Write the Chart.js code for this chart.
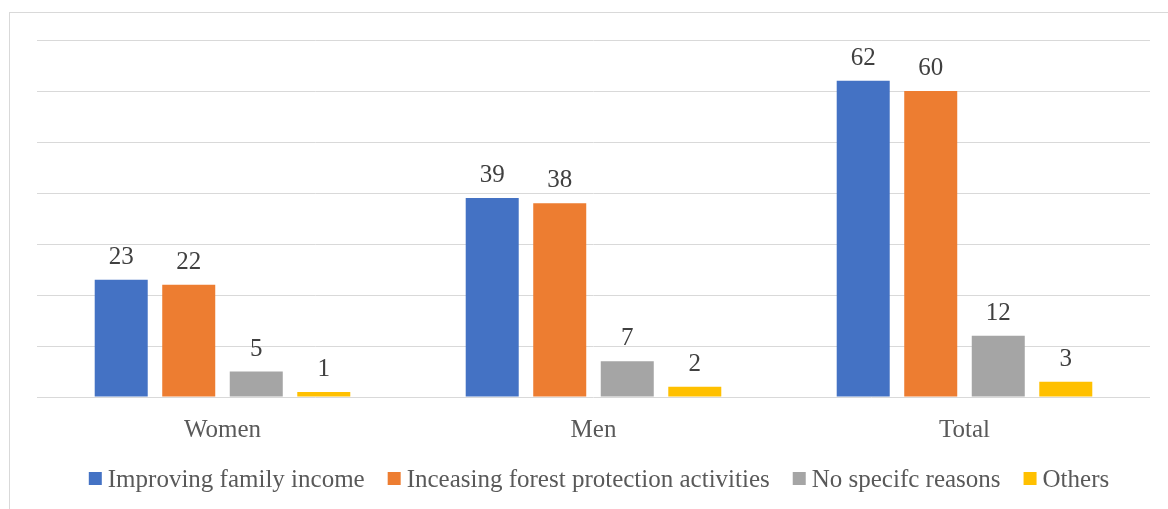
<!DOCTYPE html>
<html>
<head>
<meta charset="utf-8">
<script src="https://cdn.jsdelivr.net/npm/chart.js"></script>
<style>
  html, body { margin: 0; padding: 0; background: #fff; }
  #wrap { position: relative; width: 1168px; height: 509px; }
  #frame { position: absolute; left: 9px; top: 12px; width: 1200px; height: 600px;
           border-left: 1px solid #d9d9d9; border-top: 1px solid #d9d9d9; }
  canvas { position: absolute; left: 0; top: 0; }
</style>
</head>
<body>
<div id="wrap">
  <div id="frame"></div>
  <canvas id="myChart" width="1168" height="509"></canvas>
</div>
<script>
// data
const groups = ["Women", "Men", "Total"];
const familyIncome = [23, 39, 62];
const forestProtection = [22, 38, 60];
const noReasons = [5, 7, 12];
const others = [1, 2, 3];

const seriesNames = ["Improving family income", "Inceasing forest protection activities", "No specifc reasons", "Others"];
const seriesColors = ["#4472C4", "#ED7D31", "#A5A5A5", "#FFC000"];

const serif = "'Liberation Serif', 'Times New Roman', serif";

// value labels above bars
const valueLabels = {
  id: "valueLabels",
  afterDatasetsDraw(chart) {
    const ctx = chart.ctx;
    ctx.save();
    ctx.font = "25px " + serif;
    ctx.fillStyle = "#404040";
    ctx.textAlign = "center";
    ctx.textBaseline = "alphabetic";
    chart.data.datasets.forEach((ds, i) => {
      chart.getDatasetMeta(i).data.forEach((bar, j) => {
        ctx.fillText(ds.data[j], bar.x, bar.y - 16);
      });
    });
    ctx.restore();
  }
};

// legend drawn by hand so the box/text gaps match
const bottomLegend = {
  id: "bottomLegend",
  afterDraw(chart) {
    const ctx = chart.ctx;
    ctx.save();
    ctx.font = "25px " + serif;
    const items = chart.data.datasets.map(ds => ({
      text: ds.label, color: ds.backgroundColor, w: ctx.measureText(ds.label).width
    }));
    const box = 13, gap = 6, between = 23;
    let total = 0;
    items.forEach((it, i) => { total += box + gap + it.w + (i ? between : 0); });
    let x = 599 - total / 2;
    const y = 480;
    ctx.textBaseline = "middle";
    ctx.textAlign = "left";
    items.forEach(it => {
      ctx.fillStyle = it.color;
      ctx.fillRect(x, y - 8, box, box);
      x += box + gap;
      ctx.fillStyle = "#595959";
      ctx.fillText(it.text, x, y);
      x += it.w + between;
    });
    ctx.restore();
  }
};

const allSeries = [familyIncome, forestProtection, noReasons, others];

const data = {
  labels: groups,
  datasets: allSeries.map((vals, i) => ({
    label: seriesNames[i],
    data: vals,
    backgroundColor: seriesColors[i],
    borderWidth: 0,
    categoryPercentage: 0.728,
    barPercentage: 0.785
  }))
};

new Chart(document.getElementById("myChart"), {
  type: "bar",
  data: data,
  plugins: [valueLabels, bottomLegend],
  options: {
    responsive: false,
    animation: false,
    layout: { padding: { left: 37, right: 18, top: 40, bottom: 54 } },
    scales: {
      y: {
        min: 0, max: 70,
        ticks: { display: false, stepSize: 10 },
        border: { display: false },
        grid: { color: "#d9d9d9", lineWidth: 1, drawTicks: false }
      },
      x: {
        grid: { display: false },
        border: { display: false },
        ticks: { color: "#595959", font: { family: serif, size: 25 }, padding: 10 }
      }
    },
    plugins: {
      tooltip: { enabled: false },
      legend: { display: false }
    }
  }
});
</script>
</body>
</html>
